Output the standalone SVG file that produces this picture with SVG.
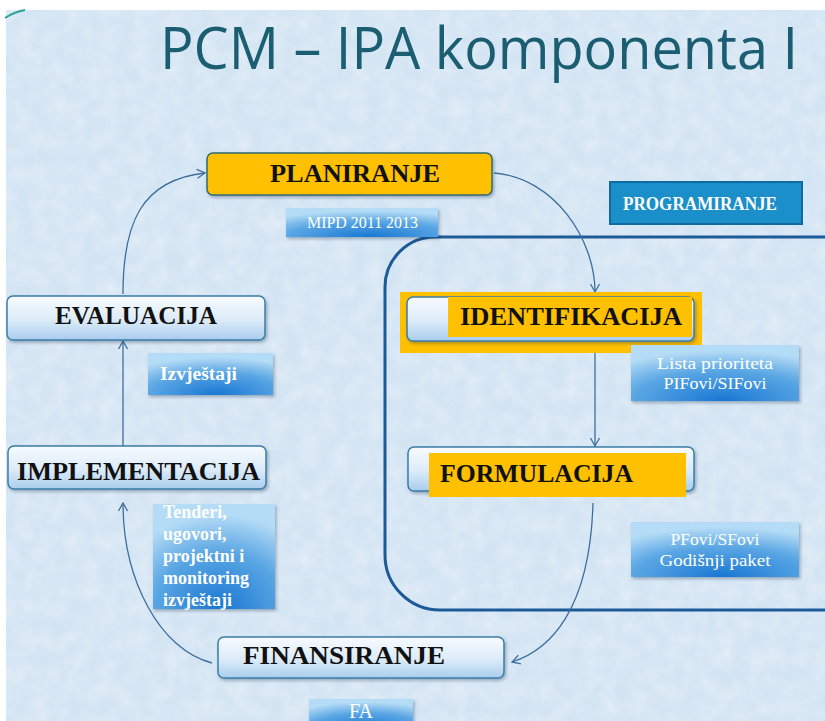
<svg xmlns="http://www.w3.org/2000/svg" width="825" height="721" viewBox="0 0 825 721">
<defs>
<style>
.lbl{font-family:"Liberation Serif","DejaVu Serif",serif;font-weight:bold;fill:#111;}
.wt{font-family:"Liberation Serif","DejaVu Serif",serif;fill:#fff;}
.wb{font-family:"Liberation Serif","DejaVu Serif",serif;fill:#fff;font-weight:bold;}
.lite{fill:url(#gLite);stroke:#3b7ea6;stroke-width:1.5;filter:url(#sh);}
.info{fill:url(#gInfo);filter:url(#sh);}
.con{fill:none;stroke:#3d6f9e;stroke-width:1.3;}
</style>
<linearGradient id="gLite" x1="0" y1="0" x2="0" y2="1">
<stop offset="0" stop-color="#f7fbff"/>
<stop offset="0.55" stop-color="#dcebf8"/>
<stop offset="1" stop-color="#a9cdee"/>
</linearGradient>
<radialGradient id="gInfo" cx="0.55" cy="1" r="0.9">
<stop offset="0" stop-color="#1877d2"/>
<stop offset="0.6" stop-color="#5aa6e4"/>
<stop offset="1" stop-color="#b5dcf6"/>
</radialGradient>
<filter id="sh" x="-10%" y="-20%" width="130%" height="150%">
<feDropShadow dx="1.5" dy="2" stdDeviation="1.5" flood-color="#1a3550" flood-opacity="0.35"/>
</filter>
<filter id="tex" x="0" y="0" width="100%" height="100%">
<feTurbulence type="fractalNoise" baseFrequency="0.06" numOctaves="3" seed="4"/>
<feColorMatrix type="matrix" values="0 0 0 0 1  0 0 0 0 1  0 0 0 0 1  0 0 0 -1.6 1.1"/>
</filter>
<marker id="ah" markerWidth="12" markerHeight="12" refX="10" refY="6" orient="auto" markerUnits="userSpaceOnUse">
<path d="M2,1.5 L10,6 L2,10.5" fill="none" stroke="#3d6f9e" stroke-width="1.3"/>
</marker>
</defs>

<rect x="0" y="0" width="825" height="721" fill="#ffffff"/>
<rect x="6" y="10" width="819" height="711" fill="#d3e4f3"/>
<rect x="6" y="10" width="819" height="711" filter="url(#tex)" opacity="0.35"/>
<path d="M5,18 Q14,12 25,10" fill="none" stroke="#2aa39a" stroke-width="2"/>

<text x="160" y="69" font-family="'Open Sans','Noto Sans',sans-serif" font-size="58" fill="#1b5e72" textLength="638" lengthAdjust="spacingAndGlyphs">PCM – IPA komponenta I</text>

<g id="frame">
<path d="M825,237 L435,237 A50,50 0 0 0 385,287 L385,555 A55,55 0 0 0 440,610 L825,610" fill="none" stroke="#1d5a98" stroke-width="3"/>
</g>

<g id="connectors">
<path class="con" d="M123,294 C123,225 140,180 205,173" marker-end="url(#ah)"/>
<path class="con" d="M494,173 C555,178 595,240 595,292" marker-end="url(#ah)"/>
<path class="con" d="M595,341 L595,446" marker-end="url(#ah)"/>
<path class="con" d="M593,503 C590,610 550,650 512,662" marker-end="url(#ah)"/>
<path class="con" d="M212,663 C160,650 123,580 123,503" marker-end="url(#ah)"/>
<path class="con" d="M123,446 L123,341" marker-end="url(#ah)"/>
</g>

<g id="planiranje">
<rect x="207" y="153" width="285" height="42" rx="6" fill="#ffc000" stroke="#2f6b70" stroke-width="1.5" filter="url(#sh)"/>
<text class="lbl" x="270" y="182" font-size="25" textLength="170" lengthAdjust="spacingAndGlyphs">PLANIRANJE</text>
</g>

<g id="mipd">
<rect class="info" x="286" y="208" width="152" height="29"/>
<text class="wt" x="307" y="228" font-size="17" textLength="111" lengthAdjust="spacingAndGlyphs">MIPD 2011 2013</text>
</g>

<g id="programiranje">
<rect x="610" y="182" width="192" height="42" fill="#1b8fca" stroke="#0e6aa0" stroke-width="2"/>
<text class="wb" x="623" y="210" font-size="18" textLength="154" lengthAdjust="spacingAndGlyphs">PROGRAMIRANJE</text>
</g>

<g id="evaluacija">
<rect class="lite" x="7" y="296" width="258" height="44" rx="6"/>
<text class="lbl" x="55" y="324" font-size="25" textLength="162" lengthAdjust="spacingAndGlyphs">EVALUACIJA</text>
</g>

<g id="izvjestaji">
<rect class="info" x="148" y="353" width="125" height="42"/>
<text class="wb" x="160" y="380" font-size="18" textLength="77" lengthAdjust="spacingAndGlyphs">Izvještaji</text>
</g>

<g id="identifikacija">
<rect x="400" y="292" width="302" height="61" fill="#ffc000"/>
<rect class="lite" x="407" y="297" width="287" height="44" rx="6"/>
<rect x="448" y="297" width="244" height="40" fill="#ffc000"/>
<text class="lbl" x="460" y="325" font-size="25" textLength="222" lengthAdjust="spacingAndGlyphs">IDENTIFIKACIJA</text>
</g>

<g id="lista">
<rect class="info" x="631" y="345" width="168" height="56"/>
<text class="wt" x="715" y="369" font-size="17" text-anchor="middle" textLength="116" lengthAdjust="spacingAndGlyphs">Lista prioriteta</text>
<text class="wt" x="715" y="389" font-size="17" text-anchor="middle" textLength="103" lengthAdjust="spacingAndGlyphs">PIFovi/SIFovi</text>
</g>

<g id="implementacija">
<rect class="lite" x="8" y="446" width="258" height="43" rx="6"/>
<text class="lbl" x="17" y="480" font-size="25" textLength="243" lengthAdjust="spacingAndGlyphs">IMPLEMENTACIJA</text>
</g>

<g id="formulacija">
<rect class="lite" x="408" y="447" width="286" height="44" rx="6"/>
<rect x="429" y="453" width="257" height="44" fill="#ffc000"/>
<text class="lbl" x="440" y="482" font-size="25" textLength="193" lengthAdjust="spacingAndGlyphs">FORMULACIJA</text>
</g>

<g id="tenderi">
<rect class="info" x="153" y="504" width="122" height="105"/>
<text class="wb" font-size="18">
<tspan x="163" y="518">Tenderi,</tspan>
<tspan x="163" y="540">ugovori,</tspan>
<tspan x="163" y="562">projektni i</tspan>
<tspan x="163" y="584">monitoring</tspan>
<tspan x="163" y="606">izvještaji</tspan>
</text>
</g>

<g id="pfovi">
<rect class="info" x="631" y="522" width="168" height="55"/>
<text class="wt" x="715" y="545" font-size="17" text-anchor="middle" textLength="89" lengthAdjust="spacingAndGlyphs">PFovi/SFovi</text>
<text class="wt" x="715" y="566" font-size="17" text-anchor="middle" textLength="111" lengthAdjust="spacingAndGlyphs">Godišnji paket</text>
</g>

<g id="finansiranje">
<rect class="lite" x="218" y="637" width="286" height="41" rx="6"/>
<text class="lbl" x="243" y="664" font-size="25" textLength="202" lengthAdjust="spacingAndGlyphs">FINANSIRANJE</text>
</g>

<g id="fa">
<rect class="info" x="309" y="699" width="104" height="30"/>
<text class="wt" x="361" y="718" font-size="20" text-anchor="middle">FA</text>
</g>
</svg>
